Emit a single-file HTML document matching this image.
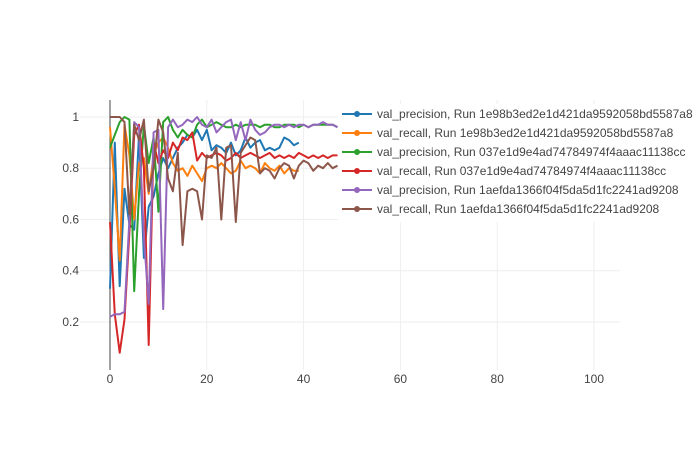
<!DOCTYPE html>
<html><head><meta charset="utf-8"><style>
body{margin:0;background:#fff;width:700px;height:450px;overflow:hidden}
svg{font-family:"Liberation Sans",sans-serif}
</style></head><body>
<svg id="chart" width="700" height="450"></svg>
<script>
const epochsA = 40, epochsB = 48;
const blueVals = [0.33,0.9,0.34,0.72,0.58,0.56,0.93,0.45,0.65,0.69,0.78,0.84,0.8,0.84,0.88,0.9,0.93,0.92,0.95,0.91,0.95,0.87,0.89,0.88,0.86,0.9,0.85,0.87,0.92,0.88,0.9,0.91,0.87,0.88,0.87,0.88,0.92,0.91,0.89,0.9];
const orangeVals = [0.96,0.72,0.44,0.97,0.85,0.6,0.82,0.84,0.7,0.85,0.9,0.92,0.88,0.82,0.79,0.8,0.77,0.81,0.78,0.75,0.8,0.81,0.8,0.82,0.8,0.78,0.79,0.83,0.8,0.81,0.8,0.78,0.82,0.8,0.79,0.81,0.78,0.8,0.79,0.79];
const greenVals = [0.88,0.93,0.98,1.0,0.99,0.32,0.7,0.97,0.82,0.92,0.63,0.98,1.0,0.95,0.92,0.95,0.93,0.92,0.97,0.99,0.96,0.97,0.98,0.97,0.96,0.96,0.97,0.96,0.97,0.97,0.97,0.96,0.97,0.97,0.96,0.96,0.97,0.97,0.97,0.96,0.97,0.96,0.97,0.97,0.97,0.97,0.97,0.96];
const redVals = [0.59,0.23,0.08,0.21,0.55,0.93,0.97,0.8,0.11,0.9,0.82,0.87,0.84,0.9,0.87,0.92,0.91,0.94,0.83,0.86,0.84,0.85,0.86,0.85,0.83,0.84,0.86,0.84,0.85,0.86,0.85,0.84,0.85,0.86,0.84,0.85,0.84,0.85,0.84,0.86,0.85,0.84,0.85,0.84,0.85,0.84,0.85,0.85];
const purpleVals = [0.22,0.23,0.23,0.24,0.6,0.98,0.96,0.53,0.27,0.94,0.95,0.25,0.96,0.99,0.96,0.97,0.99,0.98,1.0,0.97,0.96,0.99,0.94,0.96,0.98,0.99,0.91,0.98,0.91,0.99,0.95,0.93,0.94,0.96,0.97,0.97,0.96,0.97,0.96,0.97,0.97,0.96,0.97,0.97,0.98,0.97,0.97,0.96];
const brownVals = [1,1,1,0.98,0.62,0.97,0.91,0.99,0.71,0.8,0.99,0.94,0.76,0.71,0.86,0.5,0.71,0.72,0.71,0.6,0.85,0.84,0.88,0.6,0.88,0.89,0.59,0.86,0.89,0.92,0.91,0.78,0.8,0.79,0.76,0.8,0.82,0.81,0.76,0.81,0.83,0.82,0.79,0.81,0.8,0.82,0.8,0.81];
const seriesNames = ["val_precision, Run 1e98b3ed2e1d421da9592058bd5587a8","val_recall, Run 1e98b3ed2e1d421da9592058bd5587a8","val_precision, Run 037e1d9e4ad74784974f4aaac11138cc","val_recall, Run 037e1d9e4ad74784974f4aaac11138cc","val_precision, Run 1aefda1366f04f5da5d1fc2241ad9208","val_recall, Run 1aefda1366f04f5da5d1fc2241ad9208"];
const xTicks = [0,20,40,60,80,100];
const yTicks = [0.2,0.4,0.6,0.8,1];

const colors = ["#1f77b4","#ff7f0e","#2ca02c","#d62728","#9467bd","#8c564b"];
const allSeries = [blueVals,orangeVals,greenVals,redVals,purpleVals,brownVals];
const NS = "http://www.w3.org/2000/svg";
const svg = document.getElementById('chart');
const L=80,R=620,T=100,B=370;
const xS = v => 110 + v*4.84;
const yS = v => 373.2 - v*256.2;
function mk(tag, attrs, parent){const e=document.createElementNS(NS,tag);for(const k in attrs)e.setAttribute(k,attrs[k]);(parent||svg).appendChild(e);return e;}

xTicks.forEach(t=>{
  if(t!==0){const g=mk('line',{x1:xS(t),x2:xS(t),y1:T,y2:B,stroke:'#eee','stroke-width':1});
  
  }
  const tx=mk('text',{x:xS(t),y:383,'text-anchor':'middle','font-size':12,fill:'#444'});tx.textContent=t;
  
  
});
yTicks.forEach(t=>{
  const g=mk('line',{x1:L,x2:R,y1:yS(t),y2:yS(t),stroke:'#eee','stroke-width':1});
  
  
  const tx=mk('text',{x:79,y:yS(t)+4,'text-anchor':'end','font-size':12,fill:'#444'});tx.textContent=t;
  
  
});
const zl=mk('line',{x1:110,x2:110,y1:T,y2:B,stroke:'#444','stroke-width':1});



allSeries.forEach((vals,i)=>{
  const d=vals.map((v,k)=>(k?'L':'M')+xS(k).toFixed(1)+','+yS(v).toFixed(1)).join('');
  const p=mk('path',{d:d,fill:'none',stroke:colors[i],'stroke-width':2,'stroke-linejoin':'round'});
  
  
});

const lg=mk('g',{});


mk('rect',{x:338,y:104,width:362,height:118,fill:'#fff'},lg);
seriesNames.forEach((n,i)=>{
  const y=114+i*19;
  const e=mk('g',{},lg);
  
  
  mk('line',{x1:342,x2:372,y1:y,y2:y,stroke:colors[i],'stroke-width':2},e);
  mk('circle',{cx:357,cy:y,r:3,fill:colors[i]},e);
  const t=mk('text',{x:377,y:y+4,'font-size':12,fill:'#444'},e);t.textContent=n;
});
</script>
</body></html>
